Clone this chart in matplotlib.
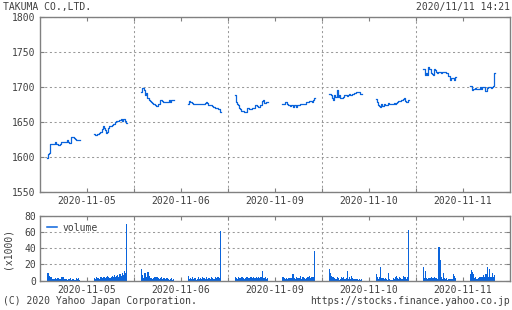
import matplotlib
matplotlib.use('Agg')
import matplotlib.pyplot as plt
import numpy as np

# 5-minute bars, morning 9:00-11:30 and afternoon 12:30-15:00
days = ['2020-11-05', '2020-11-06', '2020-11-09', '2020-11-10', '2020-11-11']

p05_am = [1599, 1604, 1606, 1618, 1618, 1618, 1619, 1621, 1618, 1618, 1617, 1617, 1618, 1621, 1621,
          1622, 1621, 1622, 1624, 1622, 1620, 1620, 1628, 1628, 1627, 1626, 1624, 1625, 1625, 1625]
p05_pm = [1633, 1632, 1632, 1633, 1633, 1634, 1636, 1640, 1645, 1641, 1638, 1635, 1636, 1641, 1645,
          1645, 1646, 1647, 1647, 1650, 1651, 1651, 1652, 1653, 1654, 1652, 1655, 1654, 1651, 1648]
p06_am = [1693, 1699, 1698, 1696, 1688, 1692, 1684, 1682, 1680, 1678, 1677, 1676, 1676, 1675, 1673,
          1676, 1676, 1681, 1681, 1680, 1678, 1678, 1678, 1678, 1679, 1681, 1679, 1681, 1681, 1681]
p06_pm = [1676, 1680, 1679, 1679, 1677, 1676, 1676, 1676, 1676, 1676, 1676, 1676, 1676, 1676, 1676,
          1677, 1678, 1677, 1675, 1675, 1674, 1674, 1673, 1672, 1670, 1670, 1670, 1668, 1668, 1665]
p09_am = [1689, 1678, 1676, 1675, 1670, 1668, 1666, 1666, 1665, 1665, 1665, 1670, 1670, 1668, 1669,
          1670, 1670, 1670, 1674, 1674, 1673, 1672, 1672, 1675, 1680, 1682, 1677, 1677, 1678, 1678]
p09_pm = [1676, 1676, 1676, 1679, 1679, 1676, 1674, 1673, 1675, 1675, 1672, 1675, 1674, 1672, 1674,
          1674, 1676, 1676, 1676, 1676, 1676, 1676, 1678, 1678, 1680, 1680, 1680, 1679, 1681, 1684]
p10_am = [1690, 1690, 1688, 1684, 1681, 1688, 1686, 1696, 1686, 1688, 1685, 1684, 1685, 1686, 1688,
          1688, 1687, 1688, 1690, 1688, 1689, 1690, 1690, 1692, 1693, 1693, 1693, 1693, 1690, 1690]
p10_pm = [1683, 1679, 1675, 1673, 1671, 1676, 1673, 1676, 1675, 1675, 1675, 1677, 1676, 1676, 1676,
          1676, 1677, 1676, 1677, 1678, 1680, 1680, 1680, 1682, 1683, 1684, 1680, 1678, 1678, 1681]
p11_am = [1726, 1726, 1717, 1720, 1717, 1728, 1726, 1720, 1718, 1717, 1725, 1724, 1722, 1720, 1722,
          1722, 1720, 1722, 1721, 1721, 1721, 1720, 1720, 1716, 1710, 1713, 1713, 1713, 1710, 1714]
p11_pm = [1702, 1702, 1696, 1697, 1697, 1698, 1697, 1697, 1697, 1700, 1697, 1700, 1700, 1700, 1694,
          1698, 1700, 1700, 1700, 1698, 1700, 1701, 1720]

# volume in thousands of shares
v05_am = [9, 10, 6, 5, 4, 2, 2, 3, 2, 3, 3, 2, 2, 4, 5, 2, 2, 2, 1, 2, 2, 3, 1, 2, 1, 1, 3, 2, 3, 1]
v05_pm = [3, 2, 4, 3, 3, 2, 4, 3, 5, 4, 3, 5, 6, 4, 3, 5, 6, 4, 7, 5, 6, 7, 5, 8, 6, 9, 7, 12, 10, 70]
v06_am = [14, 7, 3, 10, 10, 4, 11, 6, 3, 3, 2, 3, 4, 5, 4, 3, 2, 3, 4, 2, 3, 3, 2, 3, 2, 1, 2, 3, 1, 2]
v06_pm = [6, 2, 3, 2, 5, 2, 3, 1, 2, 4, 2, 3, 2, 4, 3, 2, 5, 2, 3, 3, 2, 4, 3, 2, 4, 3, 4, 4, 3, 61]
v09_am = [5, 3, 2, 5, 3, 3, 4, 3, 2, 3, 4, 5, 3, 3, 4, 3, 5, 3, 3, 4, 3, 5, 3, 4, 12, 3, 3, 4, 2, 3]
v09_pm = [4, 4, 3, 2, 3, 2, 3, 3, 3, 8, 8, 3, 2, 5, 3, 3, 6, 2, 4, 4, 3, 2, 3, 5, 6, 3, 5, 4, 4, 36]
v10_am = [15, 10, 6, 5, 4, 3, 2, 4, 3, 1, 2, 5, 3, 4, 2, 3, 12, 2, 4, 2, 6, 3, 2, 2, 2, 2, 1, 2, 1, 2]
v10_pm = [8, 4, 2, 5, 17, 3, 3, 2, 3, 2, 1, 10, 2, 1, 1, 3, 2, 4, 6, 3, 2, 4, 3, 2, 6, 4, 5, 2, 4, 62]
v11_am = [17, 3, 12, 3, 2, 3, 3, 5, 3, 3, 4, 3, 3, 2, 41, 26, 4, 2, 9, 3, 2, 3, 1, 2, 2, 2, 2, 8, 6, 3]
v11_pm = [8, 13, 11, 8, 3, 4, 2, 3, 4, 4, 4, 4, 7, 4, 8, 17, 4, 14, 4, 4, 10, 4, 7]

prices = [(p05_am, p05_pm), (p06_am, p06_pm), (p09_am, p09_pm), (p10_am, p10_pm), (p11_am, p11_pm)]
volumes = [(v05_am, v05_pm), (v06_am, v06_pm), (v09_am, v09_pm), (v10_am, v10_pm), (v11_am, v11_pm)]

blue = '#0a64dc'
txt = '#404040'
frame = '#808080'
plt.rcParams['font.family'] = 'DejaVu Sans Mono'
plt.rcParams['font.size'] = 7

fig = plt.figure(figsize=(5.12, 3.10), dpi=100)
ax = fig.add_axes([40 / 512, 118 / 310, 470 / 512, 175 / 310])
axv = fig.add_axes([40 / 512, 29.3 / 310, 470 / 512, 65 / 310])

# x axis in hours, each day 8:30-15:30 (7 hours)
for d in range(len(days)):
    for s, start in enumerate([0.5, 4.0]):
        vals = prices[d][s]
        xs = d * 7 + start + np.arange(len(vals) + 1) / 12
        ax.step(xs, vals + [vals[-1]], where='post', color=blue, lw=0.9)
        vv = volumes[d][s]
        xv = d * 7 + start + np.arange(len(vv)) / 12
        axv.bar(xv, vv, width=1 / 12, align='edge', color=blue, lw=0)

axv.plot([], [], color=blue, lw=1.1, label='volume')

centers = [d * 7 + 3.5 for d in range(len(days))]
bounds = [d * 7 for d in range(1, len(days))]
for a in (ax, axv):
    a.set_xlim(0, 35)
    a.set_xticks(centers)
    a.set_xticklabels(days)
    a.set_xticks(bounds, minor=True)
    a.grid(True, which='minor', axis='x', color='#999999', ls=(0, (2, 2.5)), lw=0.75)
    a.grid(True, which='major', axis='y', color='#999999', ls=(0, (2, 2.5)), lw=0.75)
    a.tick_params(which='both', direction='in', top=True, right=True, length=3,
                  width=0.8, color=frame, colors=txt, labelcolor=txt, pad=3)
    for sp in a.spines.values():
        sp.set_color(frame)
        sp.set_linewidth(1.0)
    a.set_axisbelow(True)

ax.set_ylim(1550, 1800)
ax.set_yticks([1550, 1600, 1650, 1700, 1750, 1800])
axv.set_ylim(0, 80)
axv.set_yticks([0, 20, 40, 60, 80])
axv.set_ylabel('(x1000)', color=txt, labelpad=8)
axv.legend(loc='upper left', frameon=False, handlelength=1, handletextpad=0.6,
           borderaxespad=0.3, labelcolor=txt)

fig.text(3 / 512, 1 - 7 / 310, 'TAKUMA CO.,LTD.', ha='left', va='center', color=txt)
fig.text(510 / 512, 1 - 7 / 310, '2020/11/11 14:21', ha='right', va='center', color=txt)
fig.text(3 / 512, 1 - 301 / 310, '(C) 2020 Yahoo Japan Corporation.', ha='left', va='center', color=txt)
fig.text(510 / 512, 1 - 301 / 310, 'https://stocks.finance.yahoo.co.jp', ha='right', va='center', color=txt)

fig.savefig('out.png', dpi=100, facecolor='white')
